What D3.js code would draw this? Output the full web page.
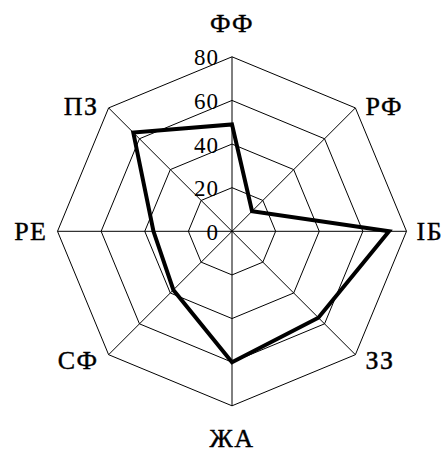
<!DOCTYPE html>
<html><head><meta charset="utf-8">
<script src="https://cdn.jsdelivr.net/npm/d3@7"></script>
<style>body{margin:0;background:#fff}svg{display:block}</style>
</head><body>
<svg id="c" width="442" height="453"></svg>
<script>
const categories = ["ФФ","РФ","ІБ","ЗЗ","ЖА","СФ","РЕ","ПЗ"];
const values = [49, 13, 72, 56, 60, 38, 36, 64];
const ticks = [0, 20, 40, 60, 80];

const cx = 232, cy = 231.3, R = 174.5;
const svg = d3.select("#c");
const r = d3.scaleLinear().domain([0, 80]).range([0, R]);
const ang = d3.scalePoint().domain(categories).range([0, 2*Math.PI*(categories.length-1)/categories.length]);
const pt = (c, v) => [cx + Math.sin(ang(c))*r(v), cy - Math.cos(ang(c))*r(v)];

const g = svg.append("g");
// rings
ticks.filter(t => t > 0).forEach(t => {
  g.append("path")
    .attr("d", d3.line()(categories.map(c => pt(c, t))) + "Z")
    .attr("fill", "none").attr("stroke", "#000").attr("stroke-width", 1);
});
// spokes
categories.forEach(c => {
  const p = pt(c, 80);
  g.append("line").attr("x1", cx).attr("y1", cy).attr("x2", p[0]).attr("y2", p[1])
    .attr("stroke", "#000").attr("stroke-width", 1);
});
// tick labels
const font = "Liberation Serif";
ticks.forEach(t => {
  g.append("text").attr("x", cx - 13).attr("y", cy - r(t) + 1)
    .attr("text-anchor", "end").attr("dominant-baseline", "central")
    .attr("font-family", font).attr("font-size", 23).attr("letter-spacing", 1)
    .attr("fill", "#000").text(t);
});
// data line
svg.append("path")
  .attr("d", d3.line()(categories.map((c, i) => pt(c, values[i]))) + "Z")
  .attr("fill", "none").attr("stroke", "#000").attr("stroke-width", 4).attr("stroke-linejoin", "miter");
// category labels
categories.forEach(c => {
  const a = ang(c), s = Math.sin(a), co = Math.cos(a);
  const p = pt(c, 80);
  let x = p[0], y = p[1], anchor = "middle";
  if (Math.abs(s) < 0.1) { y = p[1] - co*33; }
  else {
    x = p[0] + (s > 0 ? 10 : -10);
    anchor = s > 0 ? "start" : "end";
    if (Math.abs(co) > 0.1) y = p[1] + (co > 0 ? -1 : 6);
  }
  svg.append("text").attr("x", x).attr("y", y)
    .attr("text-anchor", anchor).attr("dominant-baseline", "central")
    .attr("font-family", font).attr("font-size", 26).attr("letter-spacing", 1.5)
    .attr("fill", "#000").attr("stroke", "#000").attr("stroke-width", 0.4).text(c);
});
</script>
</body></html>
